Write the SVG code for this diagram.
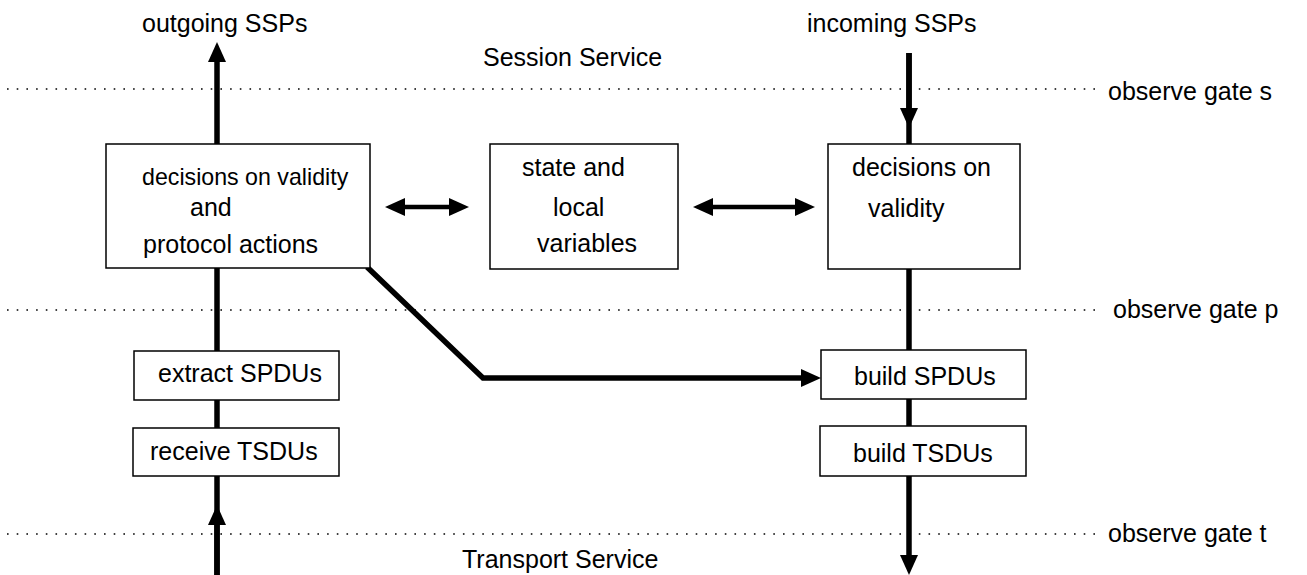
<svg xmlns="http://www.w3.org/2000/svg" width="1307" height="575" viewBox="0 0 1307 575">
<style>
text{font-family:"Liberation Sans",Arial,Helvetica,sans-serif;font-size:25px;fill:#000}
.sm{font-size:23.2px}
.box{fill:#fff;stroke:#000;stroke-width:1.5}
.gate{stroke:#000;stroke-width:1.6;stroke-dasharray:1.6 8.1;fill:none}
.flow{stroke:#000;stroke-width:5.5;fill:none}
.thin{stroke:#000;stroke-width:4.5;fill:none}
</style>
<defs>
<marker id="ah" markerUnits="userSpaceOnUse" viewBox="0 0 20 18" refX="12" refY="9" markerWidth="20" markerHeight="18" orient="auto-start-reverse">
<path d="M0,0 L20,9 L0,18 z" fill="#000"/>
</marker>
</defs>
<rect width="1307" height="575" fill="#fff"/>
<g id="gates">
<line class="gate" x1="7" y1="89" x2="1097" y2="89"/>
<line class="gate" x1="7" y1="310" x2="1097" y2="310"/>
<line class="gate" x1="7" y1="534" x2="1100" y2="534"/>
</g>
<g id="connectors">
<line class="flow" x1="217" y1="144" x2="217" y2="50" marker-end="url(#ah)"/>
<line class="flow" x1="217" y1="268" x2="217" y2="351"/>
<line class="flow" x1="217" y1="400" x2="217" y2="428"/>
<line class="flow" x1="217" y1="575" x2="217" y2="476"/>
<line class="flow" x1="217" y1="575" x2="217" y2="513" marker-end="url(#ah)"/>
<line class="flow" x1="909" y1="53" x2="909" y2="144"/>
<line class="flow" x1="909" y1="53" x2="909" y2="120" marker-end="url(#ah)"/>
<line class="flow" x1="909" y1="269" x2="909" y2="350"/>
<line class="flow" x1="909" y1="399" x2="909" y2="426"/>
<line class="flow" x1="909" y1="476" x2="909" y2="567" marker-end="url(#ah)"/>
<path class="flow" d="M367,267 L483,378 L813,378" marker-end="url(#ah)"/>
<line class="thin" x1="393" y1="207" x2="461" y2="207" marker-start="url(#ah)" marker-end="url(#ah)"/>
<line class="thin" x1="701" y1="207" x2="807" y2="207" marker-start="url(#ah)" marker-end="url(#ah)"/>
</g>
<g id="node-decisions-out">
<rect class="box" x="106" y="144" width="264" height="124"/>
<text class="sm" x="142" y="185">decisions on validity</text>
<text x="190" y="216">and</text>
<text x="143" y="253">protocol actions</text>
</g>
<g id="node-state">
<rect class="box" x="490" y="144" width="188" height="125"/>
<text x="522" y="176">state and</text>
<text x="553" y="216">local</text>
<text x="537" y="252">variables</text>
</g>
<g id="node-decisions-in">
<rect class="box" x="828" y="144" width="192" height="125"/>
<text x="852" y="176">decisions on</text>
<text x="868" y="217">validity</text>
</g>
<g id="node-extract">
<rect class="box" x="134" y="351" width="205" height="49"/>
<text x="158" y="382">extract SPDUs</text>
</g>
<g id="node-receive">
<rect class="box" x="133" y="428" width="206" height="48"/>
<text x="150" y="460">receive TSDUs</text>
</g>
<g id="node-build-spdu">
<rect class="box" x="821" y="350" width="205" height="49"/>
<text x="854" y="385">build SPDUs</text>
</g>
<g id="node-build-tsdu">
<rect class="box" x="820" y="426" width="206" height="50"/>
<text x="853" y="462">build TSDUs</text>
</g>
<g id="labels">
<text x="142" y="32">outgoing SSPs</text>
<text x="483" y="66">Session Service</text>
<text x="807" y="32">incoming SSPs</text>
<text x="1108" y="100">observe gate s</text>
<text x="1113" y="318">observe gate p</text>
<text x="1108" y="542">observe gate t</text>
<text x="462" y="568">Transport Service</text>
</g>
</svg>
